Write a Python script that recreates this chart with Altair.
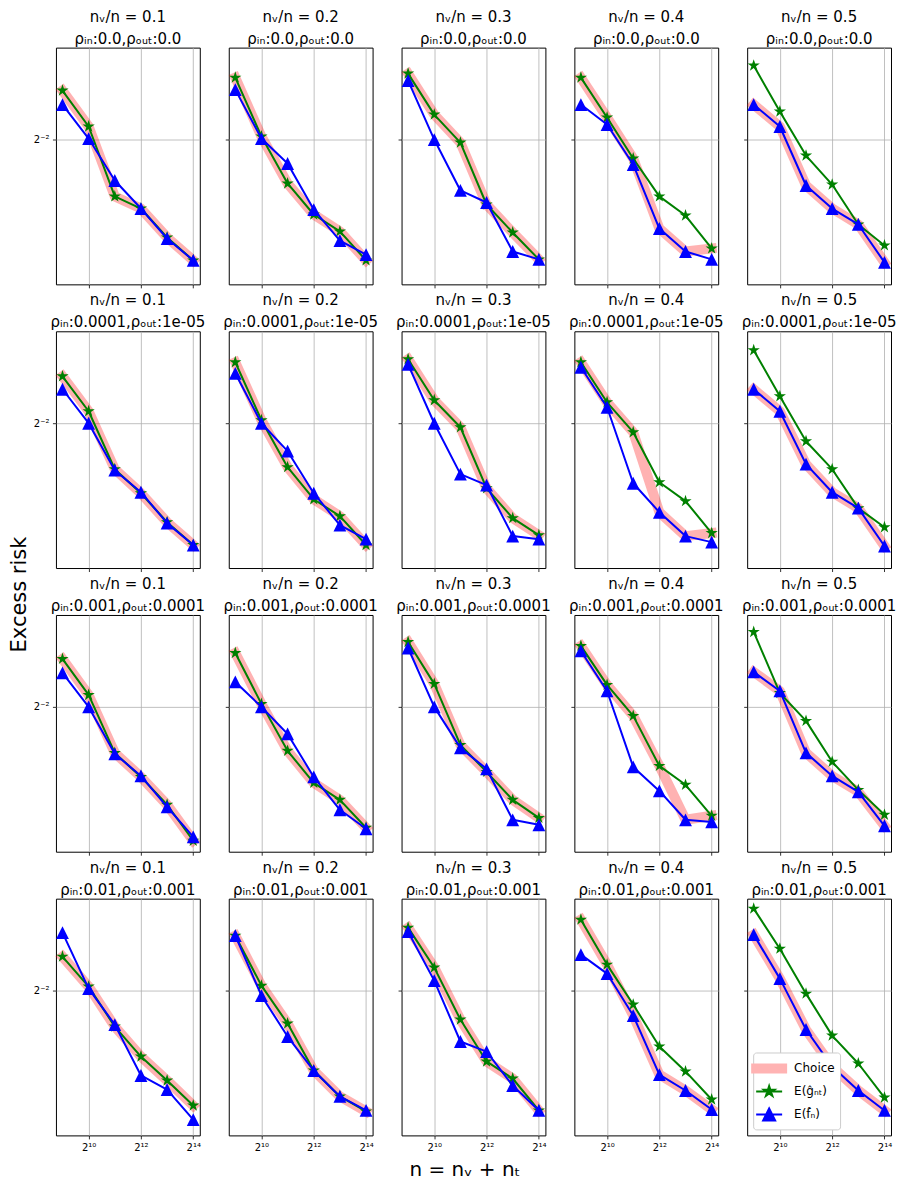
import altair as alt
import pandas as pd

nv_ratios = ["0.1", "0.2", "0.3", "0.4", "0.5"]
rho_in = ["0.0", "0.0001", "0.001", "0.01"]
rho_out = ["0.0", "1e-05", "0.0001", "0.001"]
n_values = [512, 1024, 2048, 4096, 8192, 16384]

# E(g_hat_{n_t}) per row (rho setting) and column (n_v/n)
g_risk = [
    [[0.2880, 0.2596, 0.2121, 0.2048, 0.1884, 0.1763],
     [0.2990, 0.2522, 0.2202, 0.2013, 0.1917, 0.1763],
     [0.3025, 0.2687, 0.2478, 0.2072, 0.1911, 0.1768],
     [0.2990, 0.2664, 0.2367, 0.2121, 0.2007, 0.1825],
     [0.3096, 0.2711, 0.2387, 0.2195, 0.1956, 0.1841]],
    [[0.2863, 0.2588, 0.2189, 0.2042, 0.1878, 0.1758],
     [0.2982, 0.2522, 0.2202, 0.2007, 0.1911, 0.1758],
     [0.3008, 0.2672, 0.2471, 0.2072, 0.1900, 0.1809],
     [0.2982, 0.2656, 0.2436, 0.2108, 0.1996, 0.1820],
     [0.3087, 0.2703, 0.2373, 0.2189, 0.1956, 0.1851]],
    [[0.2872, 0.2588, 0.2189, 0.2042, 0.1884, 0.1698],
     [0.2922, 0.2522, 0.2202, 0.2007, 0.1911, 0.1763],
     [0.3016, 0.2672, 0.2240, 0.2072, 0.1911, 0.1814],
     [0.2982, 0.2664, 0.2436, 0.2108, 0.1996, 0.1825],
     [0.3105, 0.2603, 0.2401, 0.2133, 0.1967, 0.1830]],
    [[0.2758, 0.2529, 0.2253, 0.2066, 0.1928, 0.1793],
     [0.2930, 0.2536, 0.2273, 0.1984, 0.1841, 0.1763],
     [0.2999, 0.2672, 0.2299, 0.2037, 0.1939, 0.1768],
     [0.3069, 0.2695, 0.2401, 0.2127, 0.1979, 0.1825],
     [0.3168, 0.2822, 0.2478, 0.2195, 0.2025, 0.1835]],
]

# E(f_hat_n)
f_risk = [
    [[0.2766, 0.2507, 0.2221, 0.2048, 0.1878, 0.1763],
     [0.2888, 0.2507, 0.2333, 0.2042, 0.1867, 0.1793],
     [0.2964, 0.2500, 0.2158, 0.2084, 0.1809, 0.1768],
     [0.2766, 0.2611, 0.2326, 0.1933, 0.1809, 0.1768],
     [0.2766, 0.2596, 0.2189, 0.2048, 0.1956, 0.1753]],
    [[0.2758, 0.2500, 0.2183, 0.2048, 0.1873, 0.1758],
     [0.2888, 0.2500, 0.2306, 0.2042, 0.1862, 0.1788],
     [0.2964, 0.2500, 0.2158, 0.2090, 0.1804, 0.1788],
     [0.2939, 0.2618, 0.2102, 0.1933, 0.1804, 0.1773],
     [0.2758, 0.2588, 0.2221, 0.2048, 0.1956, 0.1753]],
    [[0.2758, 0.2500, 0.2183, 0.2048, 0.1873, 0.1717],
     [0.2687, 0.2500, 0.2312, 0.2042, 0.1857, 0.1758],
     [0.2964, 0.2500, 0.2221, 0.2090, 0.1804, 0.1778],
     [0.2939, 0.2618, 0.2102, 0.1961, 0.1804, 0.1793],
     [0.2766, 0.2618, 0.2189, 0.2048, 0.1956, 0.1773]],
    [[0.2956, 0.2514, 0.2266, 0.1956, 0.1878, 0.1722],
     [0.2930, 0.2464, 0.2189, 0.1984, 0.1841, 0.1768],
     [0.2964, 0.2573, 0.2158, 0.2096, 0.1900, 0.1768],
     [0.2774, 0.2626, 0.2326, 0.1961, 0.1873, 0.1773],
     [0.2939, 0.2588, 0.2234, 0.2007, 0.1873, 0.1768]],
]

# which estimator the "Choice" rule picked at each n ('g' or 'f')
choice_pick = [
    ["gggggg", "gggggg", "gggggg", "gggffg", "ffffff"],
    ["gggggg", "gggggg", "gggggg", "gggffg", "ffffff"],
    ["gggggg", "gggggg", "gggggg", "ggggfg", "ffffff"],
    ["gggggg", "gggggg", "gggggg", "ggffff", "ffffff"],
]

series_names = ["Choice", "E(ĝₙₜ)", "E(f̂ₙ)"]
x_ticks = [1024, 4096, 16384]
x_domain = [430.54, 19484.0]
y_domain = [0.1645, 0.3261]

STAR = ("M0,-1L0.2245,-0.309L0.951,-0.309L0.3633,0.118L0.588,0.809L0,0.382"
        "L-0.588,0.809L-0.3633,0.118L-0.951,-0.309L-0.2245,-0.309Z")
TRI = "M0,-1L-1,1L1,1Z"
LEG_BAR = "M-1.8,-0.5H1.8V0.5H-1.8Z"
LEG_STAR = ("M-1.3,0H1.3M0,-0.55L0.1235,-0.17L0.523,-0.17L0.1998,0.0649L0.3233,0.445"
            "L0,0.21L-0.3233,0.445L-0.1998,0.0649L-0.523,-0.17L-0.1235,-0.17Z")
LEG_TRI = "M-1.3,0H1.3M0,-0.6L-0.6,0.6L0.6,0.6Z"

rows = []
for r in range(4):
    for c in range(5):
        p = r * 5 + c
        for i, n in enumerate(n_values):
            gv = g_risk[r][c][i]
            fv = f_risk[r][c][i]
            cv = gv if choice_pick[r][c][i] == "g" else fv
            rows.append({"panel": p, "series": "Choice", "n": n, "risk": cv, "k": i})
            rows.append({"panel": p, "series": series_names[1], "n": n, "risk": gv, "k": i})
            rows.append({"panel": p, "series": series_names[2], "n": n, "risk": fv, "k": i})
df = pd.DataFrame(rows)

panels = []
for r in range(4):
    for c in range(5):
        p = r * 5 + c
        sub = df[df.panel == p]
        last = (r == 3 and c == 4)
        xenc = alt.X("n:Q", scale=alt.Scale(type="log", base=2, domain=x_domain, nice=False, zero=False),
                     axis=alt.Axis(values=x_ticks, title=None, labels=(r == 3), grid=True,
                                   labelExpr="datum.value == 1024 ? '2¹⁰' : datum.value == 4096 ? '2¹²' : '2¹⁴'"))
        yenc = alt.Y("risk:Q", scale=alt.Scale(type="log", base=2, domain=y_domain, nice=False, zero=False),
                     axis=alt.Axis(values=[0.25], title=None, labels=(c == 0), grid=True,
                                   labelExpr="'2⁻²'"))
        base = alt.Chart(sub)
        choice = base.transform_filter(alt.datum.series == "Choice").mark_line(
            color="red", opacity=0.3, strokeWidth=10, strokeJoin="round", strokeCap="square"
        ).encode(x=xenc, y=yenc, order="k:Q")
        gsub = base.transform_filter(alt.datum.series == series_names[1])
        fsub = base.transform_filter(alt.datum.series == series_names[2])
        gline = gsub.mark_line(color="green", strokeWidth=2, strokeJoin="round").encode(x=xenc, y=yenc, order="k:Q")
        fline = fsub.mark_line(color="blue", strokeWidth=2, strokeJoin="round").encode(x=xenc, y=yenc, order="k:Q")
        gpts = gsub.mark_point(filled=True, size=165, opacity=1, shape=STAR, color="green").encode(x=xenc, y=yenc)
        fpts = fsub.mark_point(filled=True, size=165, opacity=1, shape=TRI, color="blue").encode(x=xenc, y=yenc)
        layers = [choice, gline, gpts, fline, fpts]
        if last:
            leg = alt.Legend(
                title=None, orient="bottom-left", offset=6,
                symbolSize=400, symbolStrokeWidth=2, symbolOpacity=1,
                labelFontSize=12, labelOffset=14, rowPadding=3,
                padding=5, fillColor="white", strokeColor="#cccccc", cornerRadius=3,
                labelColor="black", labelFont="DejaVu Sans",
            )
            legpts = base.transform_filter(alt.datum.series != "Choice").mark_point(
                filled=True, size=0
            ).encode(
                x=xenc, y=yenc,
                fill=alt.Fill("series:N", scale=alt.Scale(domain=series_names, range=["#ffb3b3", "green", "blue"]), legend=leg),
                stroke=alt.Stroke("series:N", scale=alt.Scale(domain=series_names, range=["transparent", "green", "blue"]), legend=leg),
                shape=alt.Shape("series:N", scale=alt.Scale(domain=series_names, range=[LEG_BAR, LEG_STAR, LEG_TRI]), legend=leg),
            )
            layers.append(legpts)
        layer = alt.layer(*layers).properties(
            width=144, height=237,
            title=alt.TitleParams(
                text=[f"nᵥ/n = {nv_ratios[c]}", f"ρᵢₙ:{rho_in[r]},ρₒᵤₜ:{rho_out[r]}"],
                fontSize=15, fontWeight="normal", font="DejaVu Sans", color="black",
                lineHeight=22, offset=1, anchor="middle",
            ),
        )
        panels.append(layer)

grid = alt.concat(*panels, columns=5, spacing={"row": 47, "column": 29}, bounds="flush").resolve_scale(
    shape="independent", fill="independent", stroke="independent"
).properties(
    title=alt.TitleParams(text="n = nᵥ + nₜ", orient="bottom", anchor="middle", fontSize=20,
                          fontWeight="normal", font="DejaVu Sans", color="black", offset=7)
)

chart = alt.vconcat(grid).properties(
    title=alt.TitleParams(text="Excess risk", orient="left", anchor="middle", fontSize=21,
                          fontWeight="normal", font="DejaVu Sans", color="black", offset=3),
    padding={"left": 0, "top": 0, "right": 0, "bottom": 0},
).configure_view(
    stroke="black", strokeWidth=1
).configure_axis(
    domain=False, tickColor="black", tickWidth=0.8, tickSize=3.5, gridColor="#b0b0b0", gridWidth=0.8,
    labelFontSize=10, labelColor="black", labelFont="DejaVu Sans", labelPadding=3.5
).configure_title(font="DejaVu Sans")

chart.save("out.html", embed_options={"renderer": "svg", "actions": False})
